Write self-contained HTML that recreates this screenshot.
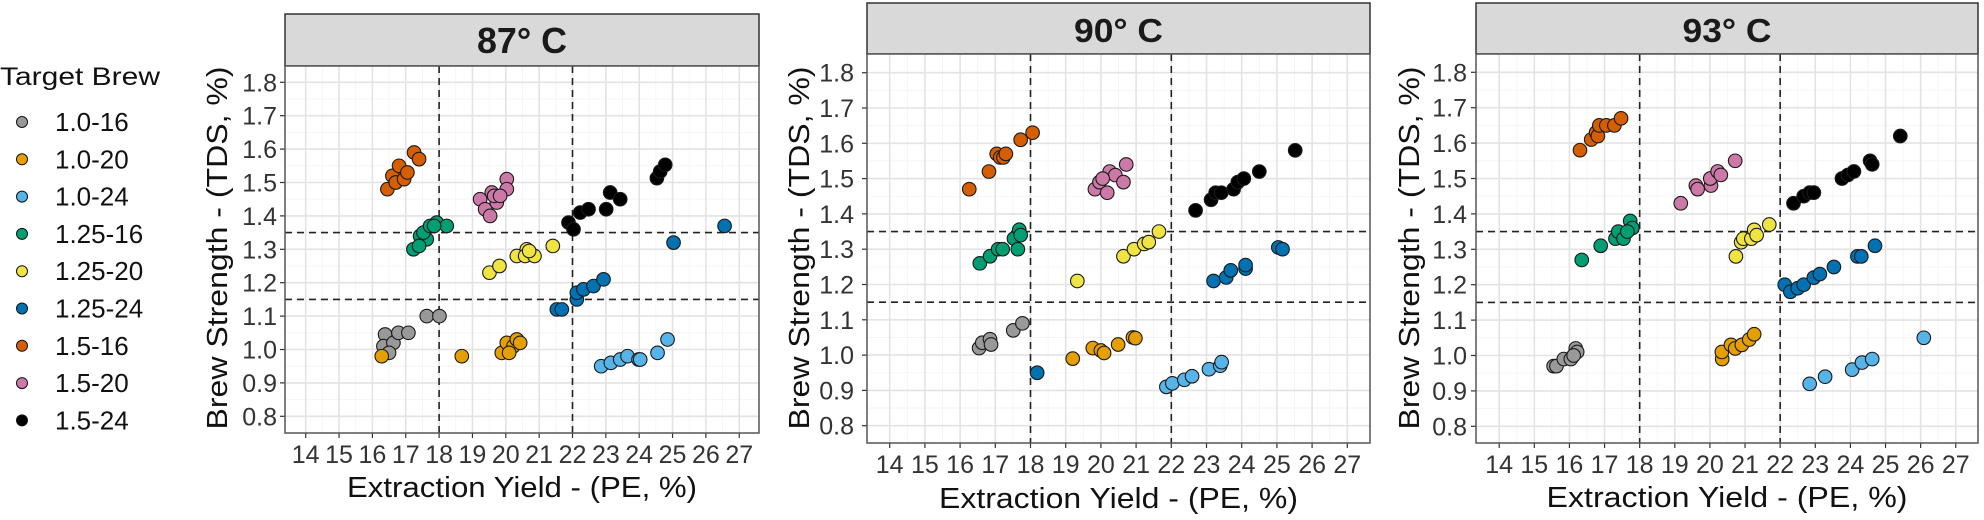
<!DOCTYPE html>
<html><head><meta charset="utf-8"><style>
html,body{margin:0;padding:0;background:#fff;}
svg{display:block;font-family:"Liberation Sans",Arial,sans-serif;}
</style></head><body>
<svg id="chart" width="1984" height="520" viewBox="0 0 1984 520" xmlns="http://www.w3.org/2000/svg"></svg>
<script>
const groupNames = ["1.0-16","1.0-20","1.0-24","1.25-16","1.25-20","1.25-24","1.5-16","1.5-20","1.5-24"];
const groupColors = ["#999999","#E69F00","#56B4E9","#009E73","#F0E442","#0072B2","#D55E00","#CC79A7","#000000"];
const panelTitles = ["87° C","90° C","93° C"];
const xTickLabels = [14,15,16,17,18,19,20,21,22,23,24,25,26,27];
const yTickLabels = ["0.8","0.9","1.0","1.1","1.2","1.3","1.4","1.5","1.6","1.7","1.8"];
const yTickValues = [0.8,0.9,1.0,1.1,1.2,1.3,1.4,1.5,1.6,1.7,1.8];
const vRefLines = [18,22];
const hRefLines = [1.15,1.35];

// 87 C
const yield87 = [
 [16.38,16.33,16.63,16.78,17.08,17.63,18.01,16.5],
 [16.28,18.68,19.88,20.03,20.23,20.33,20.43,20.1],
 [22.86,23.15,23.43,23.65,23.98,24.03,24.55,24.85],
 [17.23,17.43,17.63,17.53,17.73,17.93,18.23,17.4,17.85],
 [19.51,19.81,20.33,20.63,20.58,20.86,20.7,21.41],
 [21.53,21.68,22.13,22.13,22.33,22.63,22.93,25.03,26.56],
 [16.45,16.6,16.7,16.8,16.95,17.05,17.25,17.4],
 [19.23,19.38,19.53,19.58,19.73,19.65,20.03,20.03,19.83],
 [21.88,22.03,22.23,22.48,23.01,23.13,23.43,24.53,24.63,24.78]
];
const tds87 = [
 [1.045,1.01,1.02,1.05,1.05,1.10,1.10,0.99],
 [0.98,0.98,0.99,1.02,1.01,1.03,1.02,0.99],
 [0.95,0.96,0.97,0.98,0.97,0.97,0.99,1.03],
 [1.30,1.34,1.33,1.35,1.37,1.38,1.37,1.31,1.37],
 [1.23,1.25,1.28,1.30,1.28,1.28,1.295,1.31],
 [1.12,1.12,1.15,1.17,1.18,1.19,1.21,1.32,1.37],
 [1.48,1.52,1.50,1.55,1.51,1.53,1.59,1.57],
 [1.45,1.42,1.40,1.47,1.44,1.46,1.51,1.48,1.46],
 [1.38,1.36,1.41,1.42,1.42,1.47,1.45,1.513,1.533,1.553]
];
// 90 C
const yield90 = [
 [16.54,16.63,16.85,16.88,17.51,17.77],
 [19.20,19.77,20.00,20.09,20.49,20.91,20.98],
 [21.86,22.03,22.37,22.59,23.07,23.39,23.43],
 [16.56,16.85,17.08,17.21,17.53,17.64,17.68,17.72],
 [19.33,20.64,20.94,21.23,21.36,21.65],
 [18.19,23.20,23.56,23.69,24.11,24.11,25.04,25.16],
 [16.26,16.82,17.04,17.14,17.23,17.30,17.72,18.06],
 [19.83,19.96,20.18,20.25,20.41,20.64,20.72,20.05],
 [22.69,23.13,23.26,23.42,23.77,23.89,24.06,24.50,25.52]
];
const tds90 = [
 [1.02,1.035,1.045,1.03,1.07,1.09],
 [0.99,1.02,1.013,1.006,1.03,1.05,1.048],
 [0.91,0.92,0.93,0.94,0.96,0.97,0.98],
 [1.26,1.28,1.30,1.30,1.33,1.30,1.355,1.34],
 [1.21,1.28,1.30,1.315,1.32,1.35],
 [0.95,1.21,1.22,1.24,1.245,1.255,1.305,1.30],
 [1.47,1.52,1.57,1.56,1.56,1.57,1.61,1.63],
 [1.47,1.49,1.46,1.52,1.51,1.49,1.54,1.50],
 [1.41,1.44,1.46,1.46,1.47,1.49,1.50,1.52,1.58]
];
// 93 C
const yield93 = [
 [15.55,15.63,15.84,16.04,16.18,16.22,16.12],
 [20.35,20.34,20.60,20.72,20.91,21.12,21.26],
 [22.84,23.28,24.05,24.33,24.62,26.09],
 [16.35,16.89,17.31,17.39,17.54,17.73,17.79,17.65],
 [20.74,20.89,20.95,21.18,21.26,21.33,21.69],
 [22.13,22.29,22.50,22.67,22.96,23.13,23.53,24.20,24.31,24.70],
 [16.30,16.62,16.76,16.81,16.85,17.05,17.28,17.47],
 [19.17,19.60,19.65,20.03,20.01,20.22,20.31,20.72],
 [22.38,22.67,22.84,22.96,23.76,23.93,24.10,24.56,24.62,25.42]
];
const tds93 = [
 [0.97,0.97,0.99,0.99,1.02,1.01,1.00],
 [0.99,1.01,1.03,1.02,1.03,1.045,1.06],
 [0.92,0.94,0.96,0.98,0.99,1.05],
 [1.27,1.31,1.33,1.35,1.33,1.38,1.36,1.35],
 [1.28,1.32,1.33,1.33,1.355,1.34,1.37],
 [1.20,1.18,1.19,1.20,1.22,1.23,1.25,1.28,1.28,1.31],
 [1.58,1.61,1.63,1.62,1.65,1.65,1.65,1.67],
 [1.43,1.48,1.47,1.48,1.50,1.52,1.51,1.55],
 [1.43,1.45,1.46,1.46,1.50,1.51,1.52,1.55,1.54,1.62]
];
const panelYield = [yield87, yield90, yield93];
const panelTds = [tds87, tds90, tds93];

const layouts = [
 {L:285,R:759,T:66,B:433,stripT:14,x0:305.7,xu:33.35,y18:82.3,yu:334,tickFs:25,xTickBase:463,yLabR:277,xTitleBase:497,xTitleW:350,yTitleX:227,stripBase:53,stripFs:36,stripW:90},
 {L:867,R:1370,T:54,B:443,stripT:3,x0:889.7,xu:35.2,y18:72.7,yu:353,tickFs:25,xTickBase:473,yLabR:854,xTitleBase:508,xTitleW:359,yTitleX:809,stripBase:42,stripFs:33,stripW:89},
 {L:1476,R:1978,T:54,B:443,stripT:3,x0:1499.2,xu:35.12,y18:72.3,yu:354,tickFs:25,xTickBase:473,yLabR:1467,xTitleBase:507,xTitleW:361,yTitleX:1419,stripBase:42,stripFs:33,stripW:89}
];
const NS="http://www.w3.org/2000/svg";
const svg=document.getElementById('chart');
function mk(tag,attrs,parent){const e=document.createElementNS(NS,tag);for(const k in attrs)e.setAttribute(k,attrs[k]);(parent||svg).appendChild(e);return e;}

// legend
const leg=mk('g',{});


const lt=mk('text',{x:0,y:85,'font-size':25,textLength:160,lengthAdjust:'spacingAndGlyphs',fill:'#111'},leg);
lt.textContent='Target Brew';


groupNames.forEach((n,i)=>{
  const g=mk('g',{},leg);
  
  
  const cy=122+i*37.3;
  mk('circle',{cx:22,cy:cy,r:5.5,fill:groupColors[i],stroke:'#111','stroke-width':1},g);
  const t=mk('text',{x:55,y:cy+9,'font-size':26,fill:'#111'},g);
  t.textContent=n;
});

layouts.forEach((P,pi)=>{
  const X=v=>P.x0+(v-14)*P.xu;
  const Y=v=>P.y18+(1.8-v)*P.yu;
  const g=mk('g',{});
  
  
  const s=mk('rect',{x:P.L,y:P.stripT,width:P.R-P.L,height:P.T-P.stripT,fill:'#d9d9d9',stroke:'#333','stroke-width':1.5},g);
  
  
  const st=mk('text',{x:(P.L+P.R)/2,y:P.stripBase,'font-size':P.stripFs,'font-weight':'bold','text-anchor':'middle',textLength:P.stripW,lengthAdjust:'spacingAndGlyphs',fill:'#1a1a1a'},g);
  st.textContent=panelTitles[pi];
  
  
  mk('rect',{x:P.L,y:P.T,width:P.R-P.L,height:P.B-P.T,fill:'#fff'},g);
  for(let i=0;i<xTickLabels.length-1;i++){const x=X(xTickLabels[i]+0.5);mk('line',{x1:x,x2:x,y1:P.T,y2:P.B,stroke:'#f3f3f3','stroke-width':0.8},g);}
  for(let i=0;i<yTickValues.length-1;i++){const y=Y(yTickValues[i]+0.05);mk('line',{x1:P.L,x2:P.R,y1:y,y2:y,stroke:'#f3f3f3','stroke-width':0.8},g);}
  xTickLabels.forEach(v=>{
    const x=X(v);
    mk('line',{x1:x,x2:x,y1:P.T,y2:P.B,stroke:'#e3e3e3','stroke-width':1.6},g);
    mk('line',{x1:x,x2:x,y1:P.B,y2:P.B+5,stroke:'#333','stroke-width':1.2},g);
    const t=mk('text',{x:x,y:P.xTickBase,'font-size':P.tickFs,'text-anchor':'middle',fill:'#333'},g);
    t.textContent=v;
    
    
  });
  yTickValues.forEach((v,i)=>{
    const y=Y(v);
    mk('line',{x1:P.L,x2:P.R,y1:y,y2:y,stroke:'#e3e3e3','stroke-width':1.6},g);
    mk('line',{x1:P.L-5,x2:P.L,y1:y,y2:y,stroke:'#333','stroke-width':1.2},g);
    const t=mk('text',{x:P.yLabR,y:y+9,'font-size':P.tickFs,'text-anchor':'end',fill:'#333'},g);
    t.textContent=yTickLabels[i];
    
    
  });
  vRefLines.forEach(v=>{const l=mk('line',{x1:X(v),x2:X(v),y1:P.T,y2:P.B,stroke:'#222','stroke-width':1.6,'stroke-dasharray':'7,5'},g);
    
    });
  hRefLines.forEach(v=>{const l=mk('line',{x1:P.L,x2:P.R,y1:Y(v),y2:Y(v),stroke:'#222','stroke-width':1.6,'stroke-dasharray':'7,5'},g);
    
    });
  panelYield[pi].forEach((xs,gi)=>{
    const sg=mk('g',{},g);
    
    
    xs.forEach((xv,k)=>{
      const c=mk('circle',{cx:X(xv),cy:Y(panelTds[pi][gi][k]),r:6.8,fill:groupColors[gi],stroke:'#1a1a1a','stroke-width':1.1},sg);
      
      
    });
  });
  mk('rect',{x:P.L,y:P.T,width:P.R-P.L,height:P.B-P.T,fill:'none',stroke:'#555','stroke-width':1.5},g);
  const xt=mk('text',{x:(P.L+P.R)/2,y:P.xTitleBase,'font-size':29,'text-anchor':'middle',textLength:P.xTitleW,lengthAdjust:'spacingAndGlyphs',fill:'#111'},g);
  xt.textContent='Extraction Yield - (PE, %)';
  
  
  const yt=mk('text',{'font-size':29,'text-anchor':'middle',textLength:363,lengthAdjust:'spacingAndGlyphs',fill:'#111',transform:`translate(${P.yTitleX},248) rotate(-90)`},g);
  yt.textContent='Brew Strength - (TDS, %)';
  
  
});
</script>
</body></html>
